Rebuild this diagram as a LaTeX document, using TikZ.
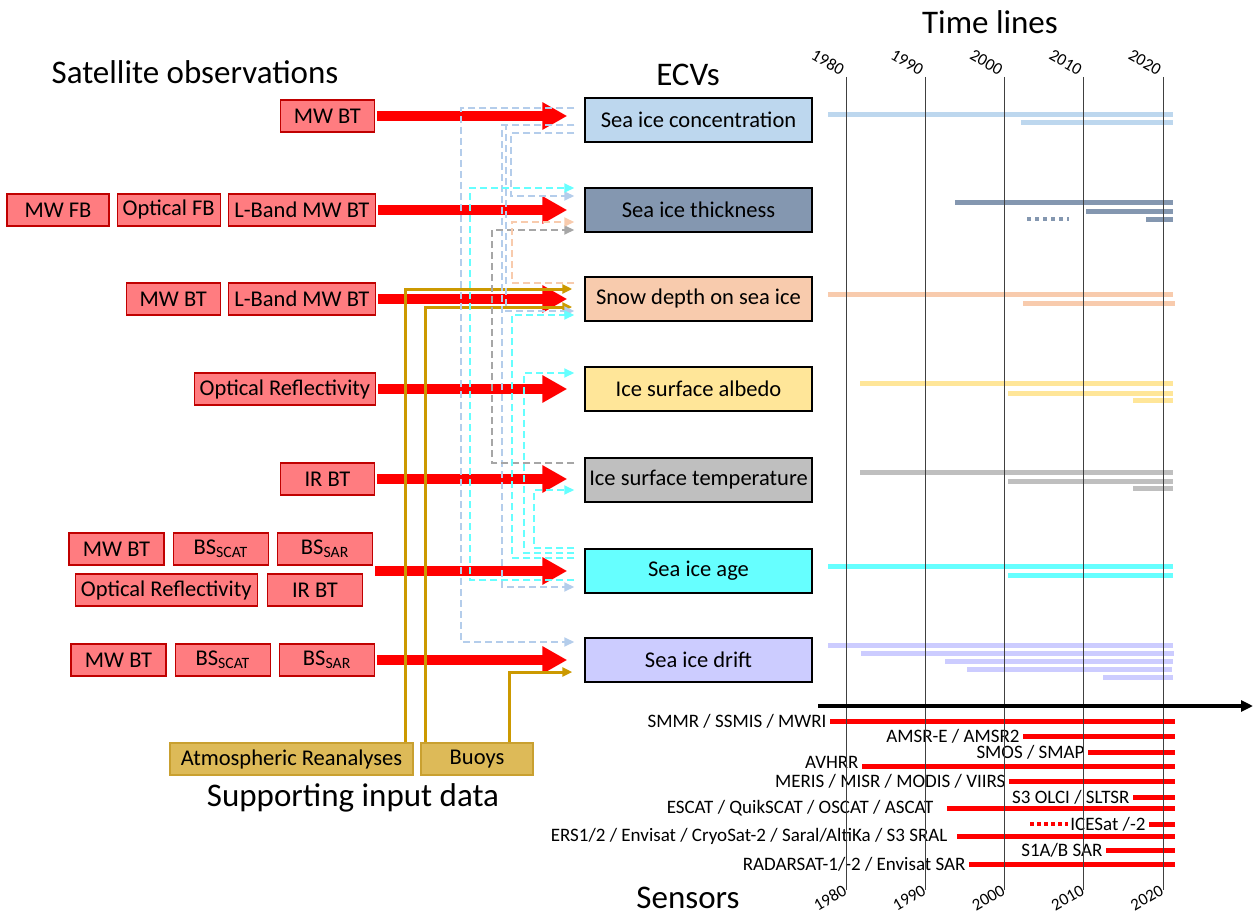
\documentclass[tikz,border=0pt]{standalone}
\usepackage{fontspec}
\setmainfont{Carlito}
\usepackage{tikz}
\usetikzlibrary{arrows.meta,positioning}

\definecolor{sicC}{HTML}{BDD7EE}
\definecolor{sicDash}{HTML}{B4CDEB}
\definecolor{thkC}{HTML}{8497B0}
\definecolor{snowC}{HTML}{F8CBAD}
\definecolor{albC}{HTML}{FFE699}
\definecolor{istC}{HTML}{BFBFBF}
\definecolor{istDash}{HTML}{A6A6A6}
\definecolor{ageC}{HTML}{66FFFF}
\definecolor{driftC}{HTML}{CCCCFF}
\definecolor{obsFill}{HTML}{FF7C80}
\definecolor{obsLine}{HTML}{C00000}
\definecolor{goldLine}{HTML}{CC9900}
\definecolor{goldFill}{HTML}{DDBA58}
\definecolor{goldEdge}{HTML}{C9A030}

\begin{document}
\begin{tikzpicture}[
    x=1pt, y=-1pt,
    node distance=7pt,
    ecv/.style={rectangle, draw, line width=1.5pt, minimum width=227pt, minimum height=44pt, inner sep=0pt, font=\fontsize{22.5}{26}\selectfont},
    obs/.style={rectangle, draw=obsLine, fill=obsFill, line width=1.2pt, minimum width=94pt, minimum height=32pt, inner sep=0pt, font=\fontsize{22.5}{26}\selectfont},
    support/.style={rectangle, draw=goldEdge, fill=goldFill, line width=1.2pt, minimum height=32pt, inner sep=0pt, font=\fontsize{22.5}{26}\selectfont},
    heading/.style={font=\fontsize{33}{38}\selectfont},
    obsarrow/.style={draw=red, line width=10pt, -{Triangle[length=25pt,width=26pt]}, shorten <=2pt, shorten >=17pt},
    supply/.style={draw=goldLine, line width=3pt, -{Triangle[length=10pt,width=9pt]}, shorten >=12pt},
    flow/.style={line width=2pt, dash pattern=on 7pt off 4pt, -{Triangle[length=10pt,width=9pt]}, shorten <=10pt, shorten >=10pt},
    tbar/.style={line width=5pt},
    gridline/.style={draw=black!75, line width=0.9pt},
    sensorbar/.style={draw=red, line width=5pt},
    sensor/.style={anchor=east, inner sep=1pt, font=\fontsize{19}{22}\selectfont},
    year/.style={font=\fontsize{17}{20}\selectfont, inner sep=0pt}
]
\useasboundingbox (0,0) rectangle (1256,915);

% Headings
\node[heading] (hsat) at (195,72) {Satellite observations};
\node[heading] (hecv) at (688,75) {ECVs};
\node[heading] (htime) at (990,22) {Time lines};
\node[heading] (hsup) at (353,798) {Supporting input data};
\node[heading] (hsens) at (688,898) {Sensors};

% ECVs
\node[ecv, fill=sicC] (sic) at (698.5,120) {Sea ice concentration};
\node[ecv, fill=thkC] (thk) at (698.5,210) {Sea ice thickness};
\node[ecv, fill=snowC] (snow) at (698.5,299) {Snow depth on sea ice};
\node[ecv, fill=albC] (alb) at (698.5,389) {Ice surface albedo};
\node[ecv, fill=istC] (ist) at (698.5,480) {Ice surface temperature};
\node[ecv, fill=ageC] (age) at (698.5,571) {Sea ice age};
\node[ecv, fill=driftC] (drift) at (698.5,660) {Sea ice drift};

% Satellite observations
\node[obs, anchor=east] (cMW) at (375,116) {MW BT};

\node[obs, minimum width=147pt, anchor=east] (tLB) at (376,210) {L-Band MW BT};
\node[obs, minimum width=103pt, left=of tLB] (tOFB) {Optical FB};
\node[obs, minimum width=102pt, left=of tOFB] (tMWFB) {MW FB};

\node[obs, minimum width=147pt, anchor=east] (sLB) at (376,299) {L-Band MW BT};
\node[obs, left=of sLB] (sMW) {MW BT};

\node[obs, minimum width=181pt, anchor=east] (aOR) at (376,389) {Optical Reflectivity};

\node[obs, anchor=east] (iIR) at (375,479) {IR BT};

\node[obs, minimum width=95pt, anchor=east] (gSAR) at (373,549) {BS\textsubscript{SAR}};
\node[obs, minimum width=95pt, left=8pt of gSAR] (gSCAT) {BS\textsubscript{SCAT}};
\node[obs, minimum width=95pt, left=8pt of gSCAT] (gMW) {MW BT};
\node[obs, minimum width=95pt, anchor=east] (gIR) at (363,590) {IR BT};
\node[obs, minimum width=182pt, left=9pt of gIR] (gOR) {Optical Reflectivity};

\node[obs, minimum width=95pt, anchor=east] (dSAR) at (375,660) {BS\textsubscript{SAR}};
\node[obs, minimum width=95pt, left=8pt of dSAR] (dSCAT) {BS\textsubscript{SCAT}};
\node[obs, minimum width=95pt, left=8pt of dSCAT] (dMW) {MW BT};

% Supporting data
\node[support, minimum width=243pt] (atmos) at (291.5,759) {Atmospheric Reanalyses};
\node[support, minimum width=112pt] (buoys) at (477,759) {Buoys};

% Observation arrows
\draw[obsarrow] (cMW.east) -- (cMW.east -| sic.west);
\draw[obsarrow] (tLB.east) -- (tLB.east -| thk.west);
\draw[obsarrow] (sLB.east) -- (sLB.east -| snow.west);
\draw[obsarrow] (aOR.east) -- (aOR.east -| alb.west);
\draw[obsarrow] (iIR.east) -- (iIR.east -| ist.west);
\draw[obsarrow] (gSAR.east |- age.west) -- (age.west);
\draw[obsarrow] (dSAR.east) -- (dSAR.east -| drift.west);

% Supporting data arrows
\draw[supply] ([xshift=-8pt]atmos.north east) |- ([yshift=10pt]snow.west);
\draw[supply] ([xshift=5pt]buoys.north west) |- ([yshift=-8pt]snow.west);
\draw[supply] ([xshift=89pt]buoys.north west) |- ([yshift=-12pt]drift.west);

% ECV dependencies
\draw[flow, draw=sicDash] ([yshift=12pt]sic.west) -- ++(-123pt,0) |- ([yshift=18pt]drift.west);
\draw[flow, draw=sicDash] ([yshift=-5pt]sic.west) -- ++(-82pt,0) |- ([yshift=-16pt]age.west);
\draw[flow, draw=sicDash] ([yshift=-5pt]sic.west) -- ++(-78pt,0) |- ([yshift=-12pt]snow.west);
\draw[flow, draw=sicDash] ([yshift=-13pt]sic.west) -- ++(-73pt,0) |- ([yshift=14pt]thk.west);
\draw[flow, draw=istDash] ([yshift=17pt]ist.west) -- ++(-92pt,0) |- ([yshift=-20pt]thk.west);
\draw[flow, draw=snowC] ([yshift=16pt]snow.west) -- ++(-72pt,0) |- ([yshift=-12pt]thk.west);
\draw[flow, draw=ageC] ([yshift=-9pt]age.west) -- ++(-114pt,0) |- ([yshift=22pt]thk.west);
\draw[flow, draw=ageC] ([yshift=13pt]age.west) -- ++(-72pt,0) |- ([yshift=-16pt]snow.west);
\draw[flow, draw=ageC] ([yshift=18pt]age.west) -- ++(-60pt,0) |- ([yshift=16pt]alb.west);
\draw[flow, draw=ageC] ([yshift=23pt]age.west) -- ++(-50pt,0) |- ([yshift=-10pt]ist.west);

% Time lines
\foreach \y/\a/\b in {115/828/1173, 123/1021/1173}
  \draw[tbar, sicC] (\a,\y) -- (\b,\y);
\foreach \y/\a/\b in {202/955/1173, 211/1086/1173, 219/1146/1173}
  \draw[tbar, thkC] (\a,\y) -- (\b,\y);
\draw[thkC, line width=4pt, dash pattern=on 4pt off 4pt] (1027,219) -- (1069,219);
\foreach \y/\a/\b in {294/828/1173, 303/1023/1175}
  \draw[tbar, snowC] (\a,\y) -- (\b,\y);
\foreach \y/\a/\b in {383/860/1173, 393/1008/1173, 400/1133/1173}
  \draw[tbar, albC] (\a,\y) -- (\b,\y);
\foreach \y/\a/\b in {472/860/1173, 481/1008/1173, 488/1133/1173}
  \draw[tbar, istC] (\a,\y) -- (\b,\y);
\foreach \y/\a/\b in {566/828/1173, 575/1008/1173}
  \draw[tbar, ageC] (\a,\y) -- (\b,\y);
\foreach \y/\a/\b in {645/828/1173, 653/861/1174, 661/945/1173, 669/967/1172, 677/1103/1173}
  \draw[tbar, driftC] (\a,\y) -- (\b,\y);

% Sensors
\draw[sensorbar] (830,721) node[sensor] (smmr) {SMMR / SSMIS / MWRI} -- (1175,721);
\draw[sensorbar] (1023,736) node[sensor] (amsr) {AMSR-E / AMSR2} -- (1175,736);
\draw[sensorbar] (1088,752) node[sensor] (smos) {SMOS / SMAP} -- (1175,752);
\draw[sensorbar] (862,766) node[sensor, yshift=4pt] (avhrr) {AVHRR} -- (1175,766);
\draw[sensorbar] (1009,781) node[sensor] (meris) {MERIS / MISR / MODIS / VIIRS} -- (1175,781);
\draw[sensorbar] (1133,797) node[sensor] (olci) {S3 OLCI / SLTSR} -- (1175,797);
\draw[sensorbar] (947,808) node[sensor, xshift=-10pt] (escat) {ESCAT / QuikSCAT / OSCAT / ASCAT} -- (1175,808);
\draw[sensorbar] (1149,824) node[sensor] (icesat) {ICESat /-2} -- (1175,824);
\draw[red, line width=4pt, dash pattern=on 4pt off 3pt] (1030,824) -- (1068,824);
\draw[sensorbar] (957,836) node[sensor, xshift=-6pt] (ers) {ERS1/2 / Envisat / CryoSat-2 / Saral/AltiKa / S3 SRAL} -- (1175,836);
\draw[sensorbar] (1106,850) node[sensor] (s1) {S1A/B SAR} -- (1175,850);
\draw[sensorbar] (969,864) node[sensor] (radarsat) {RADARSAT-1/-2 / Envisat SAR} -- (1175,864);

% Year grid
\foreach \yr [count=\i from 0] in {1980,1990,2000,2010,2020} {
  \draw[gridline] (846+79.25*\i,77) -- (846+79.25*\i,890);
  \node[year, rotate=-30, anchor=east] (top\yr) at (843+79.25*\i,71) {\yr};
  \node[year, rotate=30, anchor=east] (bot\yr) at (845+79.25*\i,889) {\yr};
}
\draw[line width=4pt, -{Triangle[length=12pt,width=11pt]}] (818,706) -- (1253,706);

\end{tikzpicture}
\end{document}
